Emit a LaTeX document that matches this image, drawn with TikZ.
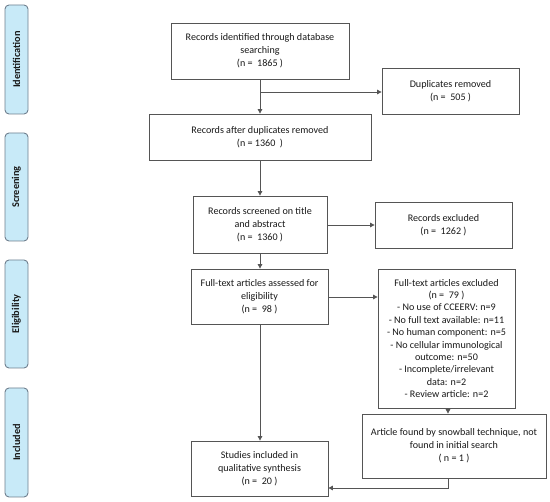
\documentclass[tikz,border=0pt]{standalone}
\usepackage{fontspec}
\setmainfont{Carlito}
\usetikzlibrary{arrows.meta}
\definecolor{phasefill}{HTML}{C8EAF8}
\definecolor{phaseline}{HTML}{6F7F8E}
\definecolor{boxline}{HTML}{555555}
\begin{document}
\begin{tikzpicture}[x=1pt,y=-1pt,
  phase/.style={draw=phaseline,fill=phasefill,rounded corners=4pt,line width=0.9pt},
  phasetext/.style={rotate=90,font=\fontsize{10.3}{12}\selectfont\bfseries,text=black!90},
  box/.style={draw=boxline,line width=0.8pt,align=center,inner sep=0pt,font=\fontsize{10.1}{13}\selectfont,text=black!90},
  conn/.style={draw=boxline,line width=0.8pt},
  arr/.style={conn,-{Triangle[length=4.5pt,width=4.5pt]}}]
\useasboundingbox (0,0) rectangle (550,502);
% phase labels
\draw[phase] (5,5) rectangle (28,114);
\node[phasetext] (pid) at (16.5,59.5) {Identification};
\draw[phase] (5,133) rectangle (28,241);
\node[phasetext] (psc) at (16.5,187) {Screening};
\draw[phase] (5,260) rectangle (28,368);
\node[phasetext] (pel) at (16.5,314) {Eligibility};
\draw[phase] (5,388) rectangle (28,497);
\node[phasetext] (pin) at (16.5,442.5) {Included};
% boxes
\node[box,minimum width=178pt,minimum height=56pt] (id) at (260,51)
  {Records identified through database\\searching\\(n =\ \ 1865 )};
\node[box,minimum width=137pt,minimum height=46pt] (dup) at (450.5,91)
  {Duplicates removed\\(n =\ \ 505 )};
\node[box,minimum width=222pt,minimum height=46pt] (after) at (260,137)
  {Records after duplicates removed\\(n = 1360\ \ )};
\node[box,minimum width=134pt,minimum height=57pt] (scr) at (260,224.5)
  {Records screened on title\\and abstract\\(n =\ \ 1360 )};
\node[box,minimum width=137pt,minimum height=46pt] (exc) at (443.5,225)
  {Records excluded\\(n =\ \ 1262 )};
\node[box,minimum width=137pt,minimum height=55pt] (ft) at (259.5,296.5)
  {Full-text articles assessed for\\eligibility\\(n =\ \ 98 )};
\node[box,minimum width=137pt,minimum height=139pt,font=\fontsize{10.1}{12.4}\selectfont] (ftx) at (446.5,338.5)
  {Full-text articles excluded\\(n =\ \ 79 )\\- No use of CCEERV: n=9\\- No full text available: n=11\\- No human component: n=5\\- No cellular immunological\\outcome: n=50\\- Incomplete/irrelevant\\data: n=2\\- Review article: n=2};
\node[box,minimum width=184pt,minimum height=64pt] (snow) at (454,446)
  {Article found by snowball technique, not\\found in initial search\\( n = 1 )};
\node[box,minimum width=137pt,minimum height=55pt] (inc) at (259.5,468.5)
  {Studies included in\\qualitative synthesis\\(n =\ \ 20 )};
% connectors
\coordinate (br) at (260,92);
\draw[arr] (id.south -| br) -- (after.north -| br);
\draw[arr] (br) -- (dup.west |- br);
\draw[arr] (after.south -| br) -- (scr.north -| br);
\draw[arr] (scr.east |- exc.west) -- (exc.west);
\draw[arr] (scr.south -| br) -- (ft.north -| br);
\draw[arr] (ft.east |- 0,297) -- (ftx.west |- 0,297);
\draw[arr] (ft.south -| br) -- (inc.north -| br);
\coordinate (sx) at (448,0);
\draw[arr] (ftx.south -| sx) -- (snow.north -| sx);
\coordinate (turn) at (448,488);
\draw[arr] (snow.south -| turn) -- (turn) -- (inc.east |- turn);
\end{tikzpicture}
\end{document}
